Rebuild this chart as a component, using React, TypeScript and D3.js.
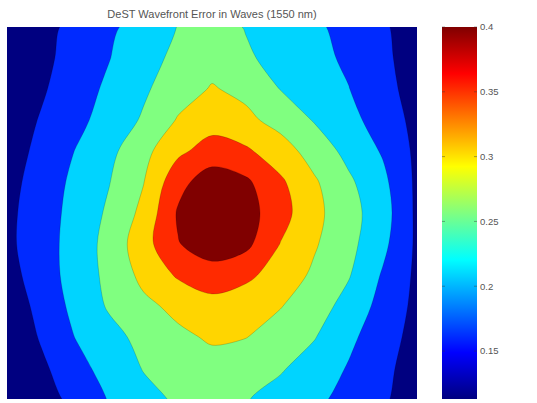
import React, { useMemo } from "react";
import * as d3 from "d3";

// ---------------- data ----------------
const TITLE = "DeST Wavefront Error in Waves (1550 nm)";

const GRID_COLS = 13;
const GRID_ROWS = 13;

// wavefront error (waves) sampled on a 13 x 13 grid, rows top -> bottom
const ROW_00 = [0.118, 0.141, 0.165, 0.188, 0.212, 0.237, 0.251, 0.234, 0.218, 0.202, 0.182, 0.159, 0.135];
const ROW_01 = [0.118, 0.144, 0.169, 0.194, 0.222, 0.245, 0.263, 0.241, 0.224, 0.207, 0.188, 0.162, 0.136];
const ROW_02 = [0.123, 0.149, 0.176, 0.203, 0.230, 0.259, 0.280, 0.267, 0.235, 0.216, 0.196, 0.167, 0.138];
const ROW_03 = [0.131, 0.157, 0.184, 0.211, 0.241, 0.280, 0.300, 0.286, 0.263, 0.233, 0.207, 0.177, 0.142];
const ROW_04 = [0.134, 0.165, 0.196, 0.226, 0.265, 0.309, 0.336, 0.324, 0.295, 0.260, 0.224, 0.191, 0.145];
const ROW_05 = [0.140, 0.172, 0.204, 0.235, 0.276, 0.346, 0.381, 0.366, 0.325, 0.282, 0.243, 0.205, 0.146];
const ROW_06 = [0.144, 0.176, 0.208, 0.243, 0.288, 0.363, 0.389, 0.376, 0.334, 0.288, 0.251, 0.213, 0.146];
const ROW_07 = [0.145, 0.177, 0.211, 0.250, 0.302, 0.357, 0.379, 0.369, 0.317, 0.281, 0.248, 0.205, 0.147];
const ROW_08 = [0.138, 0.175, 0.211, 0.247, 0.288, 0.323, 0.343, 0.327, 0.300, 0.270, 0.239, 0.191, 0.146];
const ROW_09 = [0.127, 0.167, 0.206, 0.241, 0.268, 0.287, 0.302, 0.294, 0.279, 0.254, 0.222, 0.181, 0.144];
const ROW_10 = [0.120, 0.158, 0.196, 0.223, 0.248, 0.269, 0.282, 0.278, 0.259, 0.238, 0.204, 0.172, 0.140];
const ROW_11 = [0.113, 0.146, 0.180, 0.212, 0.238, 0.250, 0.263, 0.252, 0.240, 0.219, 0.192, 0.164, 0.136];
const ROW_12 = [0.113, 0.137, 0.165, 0.198, 0.225, 0.241, 0.247, 0.238, 0.222, 0.204, 0.182, 0.159, 0.135];

const WAVEFRONT_ROWS = [
  ROW_00, ROW_01, ROW_02, ROW_03, ROW_04, ROW_05, ROW_06,
  ROW_07, ROW_08, ROW_09, ROW_10, ROW_11, ROW_12,
];

// contour levels (band boundaries)
const LEVELS = [0.154, 0.195, 0.236, 0.277, 0.318, 0.359];

// colour bar
const CBAR_MIN = 0.113;
const CBAR_MAX = 0.4;
const CBAR_TICKS = [0.15, 0.2, 0.25, 0.3, 0.35, 0.4];
const CBAR_TICK_LABELS = ["0.15", "0.2", "0.25", "0.3", "0.35", "0.4"];

// ---------------- helpers ----------------
const clamp01 = (v: number) => Math.max(0, Math.min(1, v));
function jet(f: number): string {
  const r = clamp01(Math.min(4 * f - 1.5, -4 * f + 4.5));
  const g = clamp01(Math.min(4 * f - 0.5, -4 * f + 3.5));
  const b = clamp01(Math.min(4 * f + 0.5, -4 * f + 2.5));
  return d3.rgb(r * 255, g * 255, b * 255).formatHex();
}

export default function App() {
  const W = 537;
  const H = 403;
  const plot = { left: 7, right: 417, top: 27, bottom: 399 };
  const cbar = { left: 442, right: 477, top: 27, bottom: 399 };

  const xScale = d3.scaleLinear().domain([0.5, GRID_COLS - 0.5]).range([plot.left, plot.right]);
  const yScale = d3.scaleLinear().domain([0.5, GRID_ROWS - 0.5]).range([plot.top, plot.bottom]);
  const cScale = d3.scaleLinear().domain([CBAR_MIN, CBAR_MAX]).range([cbar.bottom, cbar.top]);

  // band k colour: jet at k / nLevels
  const bandColor = (k: number) => jet(k / LEVELS.length);

  const paths = useMemo(() => {
    const values = WAVEFRONT_ROWS.flat();
    const contours = d3.contours().size([GRID_COLS, GRID_ROWS]).thresholds(LEVELS)(values);
    const line = d3
      .line<[number, number]>()
      .x((p) => xScale(p[0]))
      .y((p) => yScale(p[1]))
      .curve(d3.curveCatmullRomClosed.alpha(0.5));
    return contours.map((mp) =>
      mp.coordinates
        .map((poly) =>
          poly
            .map((ring) => {
              const pts: [number, number][] = [];
              const r = ring.slice(0, -1) as [number, number][];
              for (const p of r) {
                const last = pts[pts.length - 1];
                if (!last || Math.abs(last[0] - p[0]) > 1e-6 || Math.abs(last[1] - p[1]) > 1e-6) pts.push(p);
              }
              return line(pts) || "";
            })
            .join("")
        )
        .join("")
    );
  }, []);

  const gradStops = d3.range(0, 1.0001, 1 / 16);

  return (
    <svg
      width={W}
      height={H}
      style={{ position: "absolute", left: 0, top: 0, background: "#ffffff" }}
      fontFamily="'Liberation Sans', Arial, sans-serif"
    >
      <defs>
        <clipPath id="plotClip">
          <rect x={plot.left} y={plot.top} width={plot.right - plot.left} height={plot.bottom - plot.top} />
        </clipPath>
        <linearGradient id="jetGrad" x1="0" y1="1" x2="0" y2="0">
          {gradStops.map((f, i) => (
            <stop key={i} offset={`${f * 100}%`} stopColor={jet(f)} />
          ))}
        </linearGradient>
      </defs>

      <text x={(plot.left + plot.right) / 2} y={18} textAnchor="middle" fontSize={11} fill="#555">
        {TITLE}
      </text>

      <g clipPath="url(#plotClip)">
        <rect
          x={plot.left}
          y={plot.top}
          width={plot.right - plot.left}
          height={plot.bottom - plot.top}
          fill={bandColor(0)}
        />
        {paths.map((d, k) => (
          <path key={`f${k}`} d={d} fill={bandColor(k + 1)} fillRule="evenodd" />
        ))}
        {paths.map((d, k) => (
          <path key={`s${k}`} d={d} fill="none" stroke="#000" strokeOpacity={0.25} strokeWidth={0.7} />
        ))}
      </g>

      <rect
        x={cbar.left}
        y={cbar.top}
        width={cbar.right - cbar.left}
        height={cbar.bottom - cbar.top}
        fill="url(#jetGrad)"
      />
      {CBAR_TICKS.map((t, i) => (
        <g key={i}>
          <line x1={cbar.right - 3} x2={cbar.right} y1={cScale(t)} y2={cScale(t)} stroke="#333" strokeOpacity={0.6} strokeWidth={0.7} />
          <line x1={cbar.left} x2={cbar.left + 3} y1={cScale(t)} y2={cScale(t)} stroke="#333" strokeOpacity={0.6} strokeWidth={0.7} />
          <text x={cbar.right + 3} y={cScale(t)} dy="0.35em" fontSize={9.5} fill="#555">
            {CBAR_TICK_LABELS[i]}
          </text>
        </g>
      ))}
    </svg>
  );
}
